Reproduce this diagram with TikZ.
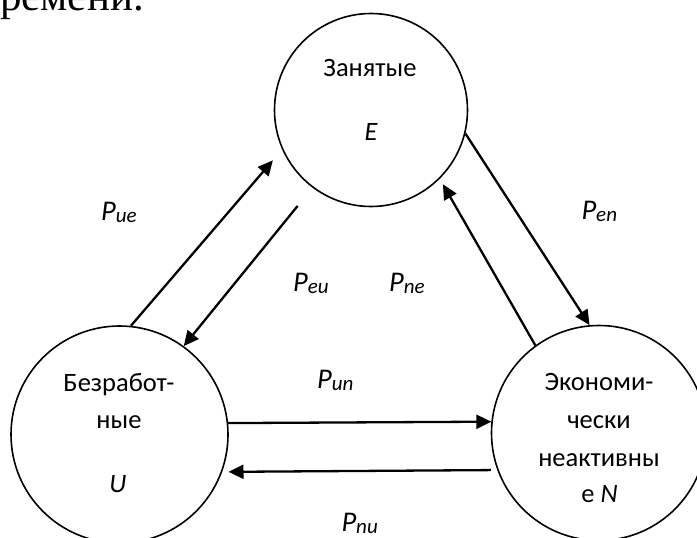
\documentclass[tikz,border=0pt]{standalone}
\usepackage{fontspec}
\setmainfont{Carlito}
\newfontfamily\serifrm{Liberation Serif}
\usetikzlibrary{arrows.meta}
\newcommand\plab[1]{P\raisebox{-2pt}{\fontsize{21}{22}\selectfont #1}}
\begin{document}
\begin{tikzpicture}[x=1pt,y=-1pt,
  state/.style={circle,draw,line width=1.6pt,inner sep=0pt,minimum size=#1},
  arr/.style={line width=2.3pt,-{Triangle[length=15pt,width=14pt]}},
  txt/.style={font=\fontsize{26.5}{30}\selectfont,inner sep=0pt,anchor=base},
  lbl/.style={font=\fontsize{28.5}{30}\selectfont\itshape,inner sep=0pt,anchor=base west}]
\useasboundingbox (0,0) rectangle (697,538);
\node[font=\serifrm\fontsize{43}{48}\selectfont,anchor=base east,inner sep=0pt] (head) at (144,10) {времени.};
% states
\node[state=193pt] (E) at (371,110) {};
\node[state=217pt] (U) at (119.5,434.5) {};
\node[state=215pt] (N) at (599,433) {};
% state texts
\node[txt] (Et1) at (370,76.5) {Занятые};
\node[txt] (Et2) at (371,140) {\itshape E};
\node[txt] (Ut1) at (119,391.7) {Безработ-};
\node[txt] (Ut2) at (119,428.3) {ные};
\node[txt] (Ut3) at (118,492.7) {\itshape U};
\node[txt] (Nt1) at (599,390.7) {Экономи-};
\node[txt] (Nt2) at (599,428.3) {чески};
\node[txt] (Nt3) at (599,466.7) {неактивны};
\node[txt] (Nt4) at (599.5,502.7) {е \textit{N}};
% transition labels
\node[lbl] (lue) at (101,220) {\plab{ue}};
\node[lbl] (leu) at (293,291.7) {\plab{eu}};
\node[lbl] (lne) at (389,291.7) {\plab{ne}};
\node[lbl] (len) at (581.3,219) {\plab{en}};
\node[lbl] (lun) at (317,388.3) {\plab{un}};
\node[lbl] (lnu) at (341.3,531.7) {\plab{nu}};
% transitions
\draw[arr,shorten >=14.2pt] (U.84.5) -- (E.204.7);
\draw[arr,shorten <=23.5pt] (E.233.8) -- (U.54.7);
\draw[arr] (E.346.4) -- (N.95.8);
\draw[arr,shorten >=6.25pt] (N.126) -- (E.315.5);
\draw[arr] (U.6.6) -- (N.174.1);
\draw[arr,shorten <=6.4pt,shorten >=6.3pt] (N.200.7) -- (U.340.3);
\end{tikzpicture}
\end{document}
